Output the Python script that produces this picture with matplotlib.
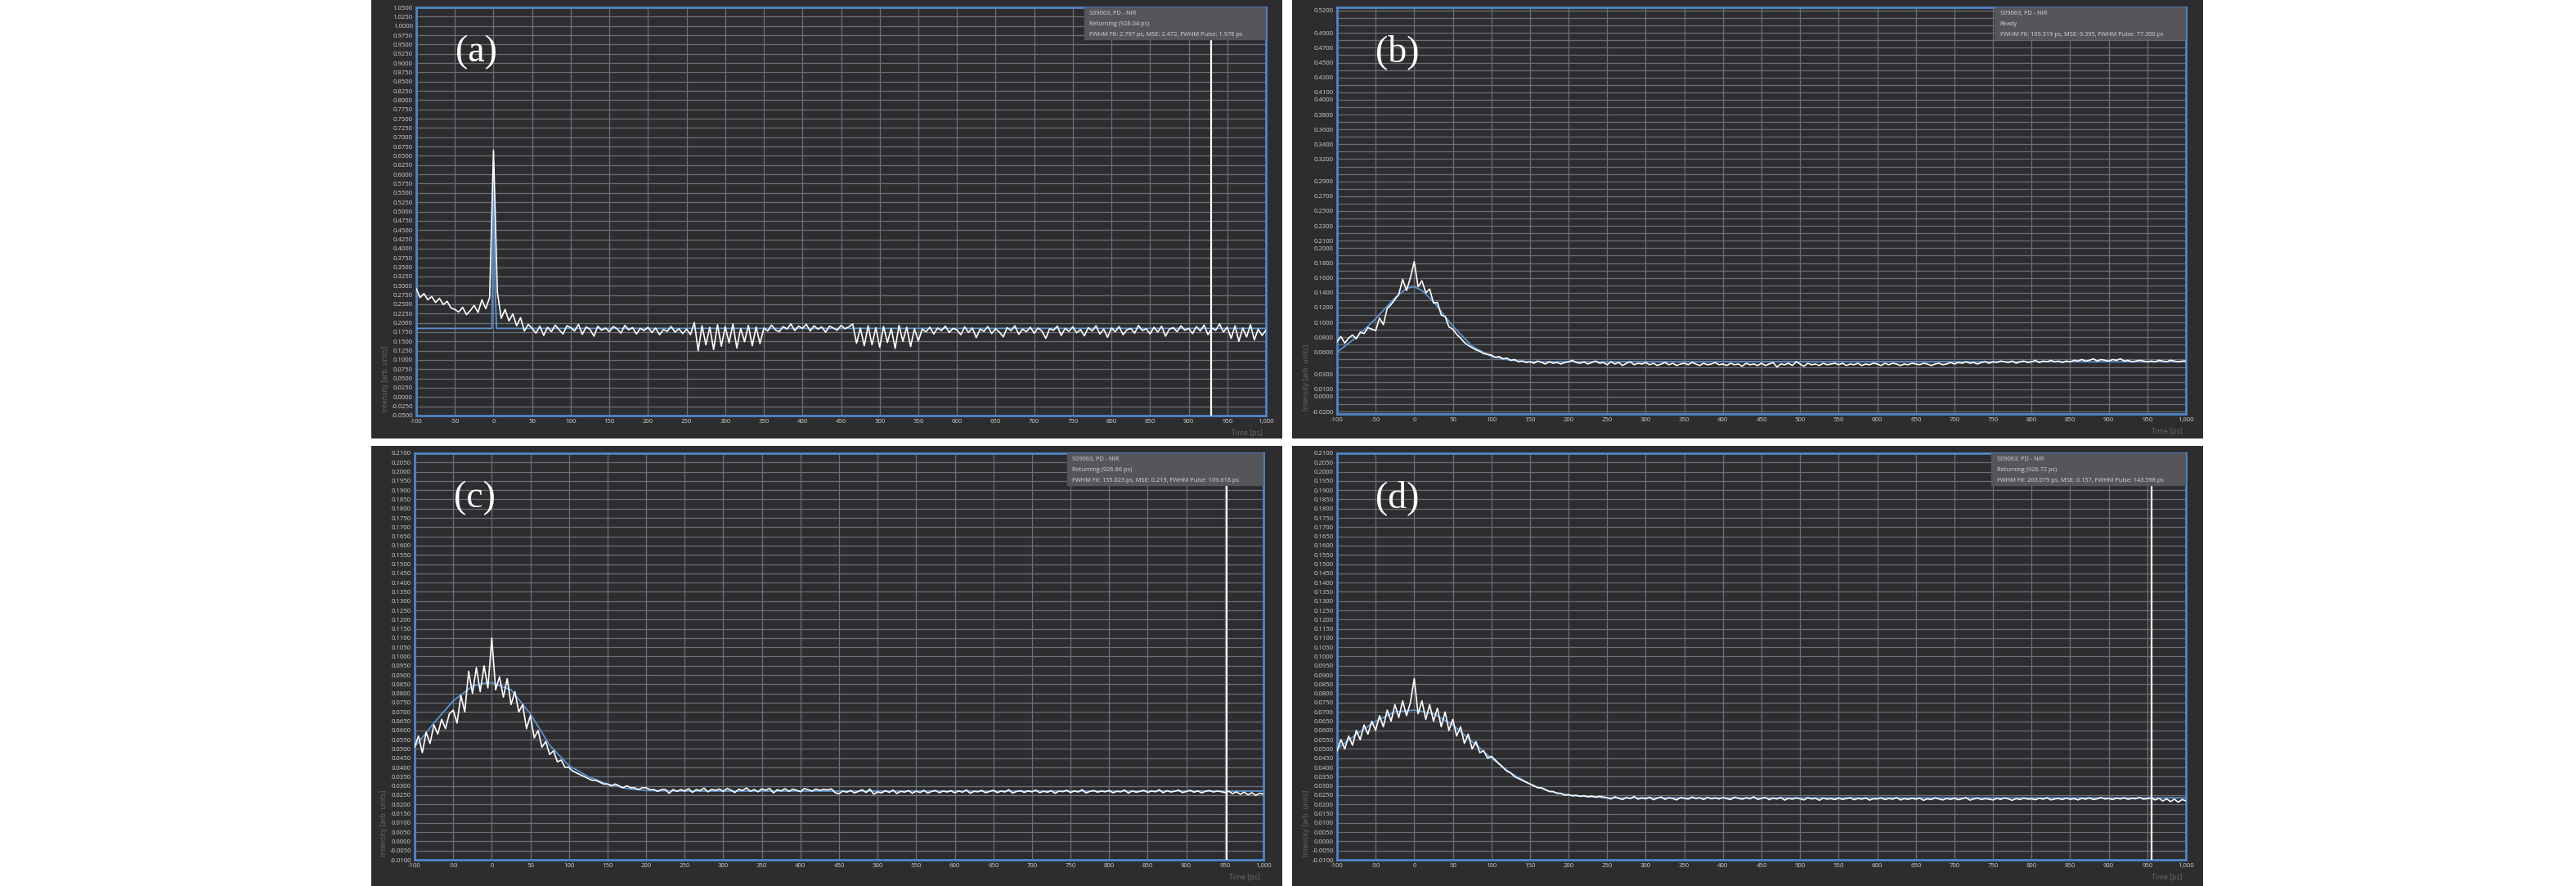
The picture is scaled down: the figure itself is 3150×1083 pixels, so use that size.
import numpy as np
import matplotlib
matplotlib.use('Agg')
import matplotlib.pyplot as plt
from matplotlib.patches import Rectangle

# time axis of the scope traces (ps), one sample every 5 ps
time_ps = np.arange(-100, 1001, 5)

# --- (a) measured trace ---
trace_a = [
    0.292, 0.268, 0.279, 0.262, 0.271, 0.255, 0.266, 0.249, 0.258, 0.240,
    0.236, 0.229, 0.242, 0.222, 0.233, 0.247, 0.228, 0.262, 0.238, 0.268,
    0.665, 0.283, 0.212, 0.236, 0.205, 0.224, 0.192, 0.214, 0.178, 0.196,
    0.185, 0.172, 0.191, 0.166, 0.188, 0.176, 0.194, 0.181, 0.170, 0.192,
    0.187, 0.178, 0.196, 0.169, 0.189, 0.182, 0.164, 0.191, 0.180, 0.186,
    0.176, 0.190, 0.184, 0.172, 0.193, 0.181, 0.187, 0.170, 0.185, 0.179,
    0.188, 0.174, 0.186, 0.168, 0.182, 0.177, 0.190, 0.175, 0.184, 0.171,
    0.183, 0.168, 0.201, 0.125, 0.192, 0.141, 0.188, 0.128, 0.195, 0.137,
    0.190, 0.146, 0.197, 0.132, 0.185, 0.149, 0.193, 0.138, 0.189, 0.144,
    0.186, 0.178, 0.194, 0.181, 0.176, 0.190, 0.183, 0.197, 0.179, 0.191,
    0.185, 0.196, 0.178, 0.192, 0.183, 0.189, 0.175, 0.191, 0.186, 0.180,
    0.193, 0.184, 0.189, 0.197, 0.145, 0.186, 0.138, 0.192, 0.141, 0.187,
    0.134, 0.190, 0.147, 0.185, 0.131, 0.193, 0.150, 0.188, 0.136, 0.184,
    0.151, 0.183, 0.176, 0.188, 0.170, 0.186, 0.179, 0.191, 0.174, 0.185,
    0.181, 0.168, 0.189, 0.174, 0.186, 0.160, 0.183, 0.177, 0.190, 0.171,
    0.184, 0.175, 0.162, 0.187, 0.179, 0.192, 0.169, 0.183, 0.176, 0.188,
    0.172, 0.186, 0.178, 0.158, 0.184, 0.180, 0.191, 0.166, 0.185, 0.177,
    0.189, 0.173, 0.182, 0.165, 0.187, 0.178, 0.192, 0.170, 0.183, 0.161,
    0.186, 0.176, 0.190, 0.168, 0.181, 0.185, 0.172, 0.193, 0.179, 0.184,
    0.170, 0.188, 0.175, 0.191, 0.164, 0.183, 0.187, 0.176, 0.192, 0.180,
    0.185, 0.171, 0.190, 0.178, 0.194, 0.168, 0.186, 0.180, 0.197, 0.175,
    0.188, 0.158, 0.192, 0.150, 0.186, 0.162, 0.195, 0.154, 0.183, 0.166,
    0.180,
]
fit_t_a = [-100, -2, -1, 0, 1, 2, 4, 1000]
fit_a = [0.185, 0.185, 0.40, 0.63, 0.52, 0.30, 0.185, 0.185]

# --- (b) measured trace ---
trace_b = [
    0.074, 0.081, 0.072, 0.079, 0.083, 0.078, 0.087, 0.085, 0.093, 0.091,
    0.089, 0.106, 0.097, 0.119, 0.124, 0.131, 0.138, 0.158, 0.143, 0.160,
    0.182, 0.148, 0.156, 0.140, 0.145, 0.126, 0.127, 0.110, 0.108, 0.094,
    0.091, 0.084, 0.079, 0.073, 0.069, 0.066, 0.063, 0.061, 0.058, 0.057,
    0.056, 0.053, 0.054, 0.051, 0.052, 0.049, 0.050, 0.047, 0.048, 0.046,
    0.047, 0.045, 0.048, 0.046, 0.044, 0.047, 0.045, 0.046, 0.044, 0.046,
    0.047, 0.049, 0.046, 0.045, 0.047, 0.044, 0.046, 0.048, 0.045, 0.046,
    0.043, 0.047, 0.044, 0.046, 0.042, 0.045, 0.047, 0.043, 0.045, 0.044,
    0.046, 0.043, 0.045, 0.042, 0.044, 0.046, 0.043, 0.045, 0.042, 0.044,
    0.045, 0.043, 0.046, 0.044, 0.042, 0.045, 0.043, 0.044, 0.046, 0.043,
    0.044, 0.042, 0.045, 0.043, 0.044, 0.041, 0.045, 0.043, 0.044, 0.042,
    0.045, 0.042, 0.044, 0.046, 0.040, 0.044, 0.043, 0.045, 0.042, 0.047,
    0.044, 0.041, 0.045, 0.043, 0.044, 0.042, 0.045, 0.043, 0.044, 0.045,
    0.043, 0.045, 0.042, 0.044, 0.043, 0.045, 0.042, 0.044, 0.043, 0.045,
    0.044, 0.042, 0.045, 0.043, 0.045, 0.044, 0.042, 0.044, 0.043, 0.045,
    0.044, 0.043, 0.045, 0.044, 0.042, 0.044, 0.045, 0.043, 0.044, 0.046,
    0.044, 0.046, 0.045, 0.047, 0.045, 0.046, 0.044, 0.046, 0.047, 0.045,
    0.047, 0.046, 0.048, 0.047, 0.046, 0.048, 0.045, 0.047, 0.048, 0.046,
    0.047, 0.049, 0.046, 0.048, 0.047, 0.049, 0.047, 0.048, 0.046, 0.048,
    0.047, 0.049, 0.048, 0.050, 0.048, 0.049, 0.051, 0.048, 0.050, 0.049,
    0.048, 0.050, 0.049, 0.051, 0.048, 0.049, 0.047, 0.048, 0.049, 0.048,
    0.047, 0.048, 0.047, 0.049, 0.048, 0.047, 0.049, 0.048, 0.047, 0.048,
    0.048,
]
fit_t_b = [-100, -75, -50, -25, -10, 0, 10, 25, 50, 75, 100, 125, 150, 1000]
fit_b = [0.060, 0.080, 0.105, 0.133, 0.146, 0.148, 0.143, 0.128, 0.095,
         0.068, 0.054, 0.049, 0.047, 0.047]

# --- (c) measured trace ---
trace_c = [
    0.051, 0.057, 0.048, 0.059, 0.053, 0.063, 0.058, 0.066, 0.061, 0.069,
    0.071, 0.064, 0.079, 0.070, 0.092, 0.080, 0.094, 0.081, 0.095, 0.083,
    0.110, 0.082, 0.089, 0.078, 0.088, 0.074, 0.081, 0.070, 0.074, 0.061,
    0.068, 0.056, 0.060, 0.051, 0.054, 0.047, 0.049, 0.043, 0.044, 0.040,
    0.040, 0.038, 0.037, 0.036, 0.035, 0.034, 0.033, 0.033, 0.032, 0.031,
    0.031, 0.030, 0.031, 0.030, 0.029, 0.030, 0.029, 0.029, 0.028, 0.029,
    0.029, 0.028, 0.028, 0.027, 0.028, 0.028, 0.026, 0.028, 0.027, 0.028,
    0.0272, 0.0285, 0.0265, 0.0280, 0.0274, 0.0288, 0.0268, 0.0281, 0.0276, 0.0283,
    0.0270, 0.0286, 0.0277, 0.0264, 0.0282, 0.0275, 0.0289, 0.0271, 0.0280, 0.0268,
    0.0284, 0.0276, 0.0287, 0.0262, 0.0279, 0.0273, 0.0285, 0.0270, 0.0282, 0.0277,
    0.0268, 0.0286, 0.0279, 0.0272, 0.0283, 0.0276, 0.0281, 0.0278, 0.0284, 0.0263,
    0.0258, 0.0272, 0.0266, 0.0275, 0.0262, 0.0270, 0.0279, 0.0264, 0.0283, 0.0255,
    0.0268, 0.0262, 0.0274, 0.0265, 0.0277, 0.0259, 0.0271, 0.0266, 0.0275, 0.0260,
    0.0272, 0.0264, 0.0276, 0.0261, 0.0270, 0.0275, 0.0263, 0.0272, 0.0267, 0.0274,
    0.0262, 0.0273, 0.0266, 0.0278, 0.0260, 0.0271, 0.0268, 0.0275, 0.0263, 0.0270,
    0.0276, 0.0264, 0.0272, 0.0267, 0.0279, 0.0261, 0.0270, 0.0274, 0.0265, 0.0273,
    0.0268, 0.0277, 0.0263, 0.0271, 0.0266, 0.0274, 0.0260, 0.0272, 0.0269, 0.0276,
    0.0264, 0.0273, 0.0267, 0.0279, 0.0262, 0.0270, 0.0275, 0.0266, 0.0272, 0.0268,
    0.0275, 0.0263, 0.0271, 0.0268, 0.0277, 0.0261, 0.0273, 0.0266, 0.0270, 0.0276,
    0.0265, 0.0272, 0.0268, 0.0279, 0.0263, 0.0274, 0.0267, 0.0271, 0.0277, 0.0264,
    0.0270, 0.0276, 0.0266, 0.0273, 0.0262, 0.0271, 0.0275, 0.0267, 0.0272, 0.0269,
    0.0264, 0.0271, 0.0258, 0.0268, 0.0255, 0.0266, 0.0252, 0.0263, 0.0249, 0.0260,
    0.0256,
]
fit_t_c = [-100, -75, -50, -25, -5, 0, 25, 50, 75, 100, 125, 150, 175, 200, 250, 1000]
fit_c = [0.051, 0.064, 0.076, 0.084, 0.086, 0.0858, 0.082, 0.069, 0.052,
         0.041, 0.035, 0.031, 0.0285, 0.0275, 0.0272, 0.0272]

# --- (d) measured trace ---
trace_d = [
    0.049, 0.055, 0.050, 0.057, 0.052, 0.060, 0.055, 0.063, 0.058, 0.065,
    0.060, 0.068, 0.062, 0.071, 0.065, 0.074, 0.067, 0.076, 0.068, 0.075,
    0.088, 0.069, 0.076, 0.066, 0.074, 0.065, 0.072, 0.062, 0.070, 0.060,
    0.066, 0.057, 0.062, 0.053, 0.058, 0.050, 0.054, 0.048, 0.049, 0.045,
    0.046, 0.044, 0.042, 0.040, 0.038, 0.037, 0.035, 0.034, 0.033, 0.032,
    0.031, 0.030, 0.029, 0.029, 0.028, 0.027, 0.027, 0.026, 0.026, 0.025,
    0.0252, 0.0246, 0.0249, 0.0243, 0.0247, 0.0241, 0.0245, 0.0239, 0.0244, 0.0240,
    0.0236, 0.0229, 0.0241, 0.0233, 0.0226, 0.0238, 0.0231, 0.0243, 0.0228, 0.0235,
    0.0230, 0.0239, 0.0225, 0.0234, 0.0240, 0.0227, 0.0236, 0.0232, 0.0224, 0.0237,
    0.0233, 0.0228, 0.0240, 0.0231, 0.0236, 0.0226, 0.0238, 0.0230, 0.0235, 0.0229,
    0.0237, 0.0231, 0.0226, 0.0239, 0.0233, 0.0228, 0.0236, 0.0230, 0.0241, 0.0227,
    0.0232, 0.0238, 0.0225, 0.0234, 0.0229, 0.0237, 0.0223, 0.0233, 0.0228, 0.0235,
    0.0230, 0.0224, 0.0236, 0.0229, 0.0233, 0.0222, 0.0234, 0.0228, 0.0231, 0.0226,
    0.0234, 0.0227, 0.0231, 0.0236, 0.0225, 0.0232, 0.0228, 0.0235, 0.0223, 0.0230,
    0.0229, 0.0235, 0.0226, 0.0232, 0.0228, 0.0237, 0.0224, 0.0231, 0.0227, 0.0233,
    0.0228, 0.0234, 0.0222, 0.0230, 0.0226, 0.0235, 0.0229, 0.0224, 0.0232, 0.0227,
    0.0233, 0.0225, 0.0230, 0.0236, 0.0223, 0.0229, 0.0234, 0.0226, 0.0231, 0.0228,
    0.0224, 0.0232, 0.0227, 0.0235, 0.0229, 0.0222, 0.0231, 0.0226, 0.0234, 0.0228,
    0.0230, 0.0225, 0.0233, 0.0228, 0.0236, 0.0224, 0.0229, 0.0232, 0.0226, 0.0234,
    0.0227, 0.0231, 0.0224, 0.0233, 0.0228, 0.0235, 0.0226, 0.0230, 0.0237, 0.0229,
    0.0232, 0.0226, 0.0234, 0.0229, 0.0236, 0.0227, 0.0233, 0.0230, 0.0238, 0.0228,
    0.0231, 0.0235, 0.0224, 0.0233, 0.0218, 0.0230, 0.0215, 0.0228, 0.0212, 0.0226,
    0.0219,
]
fit_t_d = [-100, -75, -50, -25, 0, 25, 50, 75, 100, 125, 150, 175, 200, 250, 1000]
fit_d = [0.050, 0.058, 0.065, 0.070, 0.071, 0.069, 0.063, 0.054, 0.045,
         0.037, 0.031, 0.027, 0.025, 0.0235, 0.0235]

# y tick labels shown by the software on panel (b) (grid every 0.01)
labels_b = [0.52, 0.49, 0.47, 0.45, 0.43, 0.41, 0.40, 0.38, 0.36, 0.34, 0.32,
            0.29, 0.27, 0.25, 0.23, 0.21, 0.20, 0.18, 0.16, 0.14, 0.12, 0.10,
            0.08, 0.06, 0.03, 0.01, 0.00, -0.02]

x_ticks = list(range(-100, 1001, 50))

info_a = ['S09063, PD - NIR', 'Returning (928.04 ps)',
          'FWHM Fit: 2.797 ps, MSE: 2.472, FWHM Pulse: 1.978 ps']
info_b = ['S09063, PD - NIR', 'Ready',
          'FWHM Fit: 109.319 ps, MSE: 0.395, FWHM Pulse: 77.300 ps']
info_c = ['S09063, PD - NIR', 'Returning (926.86 ps)',
          'FWHM Fit: 155.023 ps, MSE: 0.219, FWHM Pulse: 109.618 ps']
info_d = ['S09063, PD - NIR', 'Returning (926.72 ps)',
          'FWHM Fit: 203.079 ps, MSE: 0.157, FWHM Pulse: 143.598 ps']

W, H = 3150, 1083
BG = '#2d2d30'
GRID = '#6c6f76'
SPINE = '#4f86c6'
TXT = '#cfcfcf'

fig = plt.figure(figsize=(W / 100, H / 100), dpi=100, facecolor='white')


def px_rect(l, t, r, b):
    return [l / W, 1 - b / H, (r - l) / W, (b - t) / H]


def panel(bg_box, ax_box, tag, t, y, ft, fy, ylim, yticks, ylabels,
          info, box_x0, cursor=None):
    # dark window behind the plot (the software screenshot)
    bg = fig.add_axes(px_rect(*bg_box), zorder=-5)
    bg.set_facecolor(BG)
    bg.set_xticks([])
    bg.set_yticks([])
    for s in bg.spines.values():
        s.set_visible(False)

    ax = fig.add_axes(px_rect(*ax_box), zorder=1)
    ax.set_facecolor(BG)
    ax.set_xlim(-100, 1000)
    ax.set_ylim(*ylim)
    ax.set_xticks(x_ticks)
    ax.set_xticklabels([f'{v:,}' for v in x_ticks])
    ax.set_yticks(yticks)
    ax.set_yticklabels(ylabels)
    ax.grid(True, color=GRID, lw=0.9)
    ax.set_axisbelow(True)
    ax.tick_params(length=0, colors=TXT, labelsize=5.6, pad=3,
                   labelfontfamily='Open Sans')
    for s in ax.spines.values():
        s.set_color(SPINE)
        s.set_linewidth(2)

    ax.plot(ft, fy, color='#5b93d3', lw=1.3, zorder=3)
    ax.plot(t, y, color='white', lw=1.2, zorder=4)
    if cursor is not None:
        ax.axvline(cursor, color='white', lw=1.6, zorder=5)

    ax.add_patch(Rectangle((box_x0, 0.922), 1 - box_x0, 0.078,
                           transform=ax.transAxes, color='#55565a', zorder=6))
    for k, line in enumerate(info):
        ax.text(box_x0 + 0.006, 0.985 - k * 0.026, line, transform=ax.transAxes,
                fontsize=5.3, color='#d6d6d6', family='Open Sans',
                va='center', ha='left', zorder=7)

    ax.text(0.071, 0.89, tag, transform=ax.transAxes, fontsize=33,
            color='white', family='Liberation Serif', ha='center', va='center')
    ax.text(-0.036, 0.09, 'Intensity [arb. units]', transform=ax.transAxes,
            rotation=90, fontsize=6.2, color='#6a6a6a', family='Open Sans',
            ha='center', va='center')
    ax.text(0.978, -0.043, 'Time [ps]', transform=ax.transAxes, fontsize=6.2,
            color='#6a6a6a', family='Open Sans', ha='center', va='center')
    return ax


ticks_a = np.round(np.arange(-0.05, 1.0501, 0.025), 4)
panel((454, 0, 1568, 536), (509, 9, 1548, 508), '(a)', time_ps, trace_a,
      fit_t_a, fit_a, (-0.05, 1.05), ticks_a, [f'{v:.4f}' for v in ticks_a],
      info_a, 0.786, cursor=929)

ticks_b = np.round(np.arange(-0.02, 0.5201, 0.01), 4)
lab_b = [f'{v:.4f}' if any(abs(v - q) < 1e-6 for q in labels_b) else ''
         for v in ticks_b]
panel((1580, 0, 2694, 536), (1635, 9, 2673, 506), '(b)', time_ps, trace_b,
      fit_t_b, fit_b, (-0.0233, 0.5244), ticks_b, lab_b, info_b, 0.775)

ticks_c = np.round(np.arange(-0.01, 0.2101, 0.005), 4)
panel((454, 545, 1568, 1083), (507, 554, 1545, 1051), '(c)', time_ps, trace_c,
      fit_t_c, fit_c, (-0.01, 0.21), ticks_c, [f'{v:.4f}' for v in ticks_c],
      info_c, 0.769, cursor=952)

panel((1580, 545, 2694, 1083), (1635, 554, 2673, 1051), '(d)', time_ps, trace_d,
      fit_t_d, fit_d, (-0.01, 0.21), ticks_c, [f'{v:.4f}' for v in ticks_c],
      info_d, 0.771, cursor=956)

fig.savefig('out.png', dpi=100, facecolor='white')
